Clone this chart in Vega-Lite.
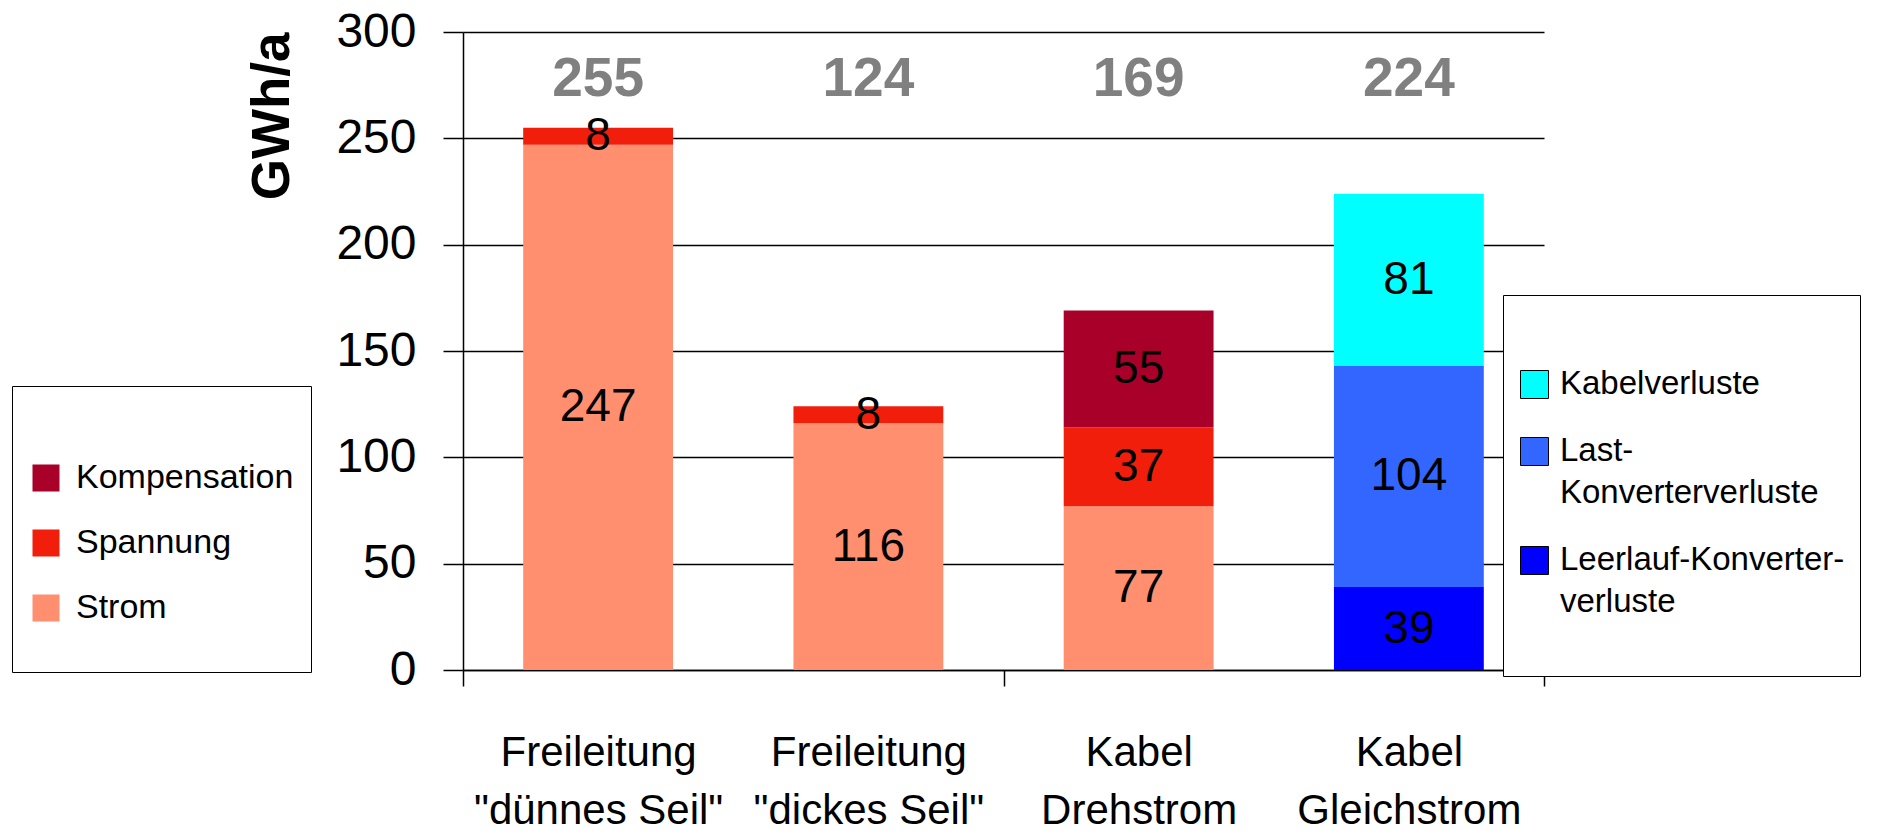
{
  "$schema": "https://vega.github.io/schema/vega-lite/v6.json",
  "width": 1081,
  "height": 638,
  "autosize": {"type": "none"},
  "padding": {"left": 463, "top": 32, "right": 341, "bottom": 161},
  "background": "white",
  "config": {
    "view": {"stroke": null},
    "font": "Liberation Sans",
    "axisY": {
      "domainColor": "#000", "domainWidth": 1.5,
      "gridColor": "#000", "gridWidth": 1.3, "gridOpacity": 1,
      "tickColor": "#000", "tickSize": 20, "tickWidth": 1.5,
      "labelFont": "Liberation Sans", "labelFontSize": 48, "labelColor": "#000", "labelPadding": 27,
      "titleFont": "Liberation Sans", "titleFontSize": 53, "titleFontWeight": "bold", "titleColor": "#000",
      "titlePadding": 36, "titleAnchor": "end"
    },
    "axisX": {
      "domainColor": "#000", "domainWidth": 1.5,
      "tickColor": "#000", "tickSize": 16, "tickWidth": 1.5,
      "labelFont": "Liberation Sans", "labelFontSize": 42, "labelColor": "#000",
      "labelLineHeight": 58, "labelBaseline": "top", "labelPadding": 46, "labelAngle": 0,
      "labelLimit": 400, "tickBand": "extent"
    }
  },
  "data": {
    "values": [
      {"cat": "Freileitung|\"dünnes Seil\"", "group": "rot", "seg": "Strom", "ord": 1, "value": 247},
      {"cat": "Freileitung|\"dünnes Seil\"", "group": "rot", "seg": "Spannung", "ord": 2, "value": 8},
      {"cat": "Freileitung|\"dickes Seil\"", "group": "rot", "seg": "Strom", "ord": 1, "value": 116},
      {"cat": "Freileitung|\"dickes Seil\"", "group": "rot", "seg": "Spannung", "ord": 2, "value": 8},
      {"cat": "Kabel|Drehstrom", "group": "rot", "seg": "Strom", "ord": 1, "value": 77},
      {"cat": "Kabel|Drehstrom", "group": "rot", "seg": "Spannung", "ord": 2, "value": 37},
      {"cat": "Kabel|Drehstrom", "group": "rot", "seg": "Kompensation", "ord": 3, "value": 55},
      {"cat": "Kabel|Gleichstrom", "group": "blau", "seg": "Leerlauf-Konverter-|verluste", "ord": 1, "value": 39},
      {"cat": "Kabel|Gleichstrom", "group": "blau", "seg": "Last-|Konverterverluste", "ord": 2, "value": 104},
      {"cat": "Kabel|Gleichstrom", "group": "blau", "seg": "Kabelverluste", "ord": 3, "value": 81}
    ]
  },
  "encoding": {
    "x": {
      "field": "cat", "type": "nominal", "sort": null,
      "scale": {"paddingInner": 0, "paddingOuter": 0},
      "axis": {
        "title": null,
        "labelExpr": "split(datum.label, '|')",
        "tickOpacity": {"condition": {"test": "datum.index < 0 || (datum.index > 0.2 && datum.index < 0.5) || datum.index > 0.9", "value": 1}, "value": 0}
      }
    }
  },
  "layer": [
    {
      "transform": [{"filter": "datum.group === 'rot'"}],
      "mark": {"type": "bar", "width": {"band": 0.5545}},
      "encoding": {
        "y": {
          "field": "value", "type": "quantitative", "stack": "zero",
          "scale": {"domain": [0, 300], "nice": false},
          "axis": {"values": [0, 50, 100, 150, 200, 250, 300], "grid": true},
          "title": "GWh/a"
        },
        "color": {
          "field": "seg", "type": "nominal",
          "scale": {"domain": ["Kompensation", "Spannung", "Strom"], "range": ["#A80028", "#F01E0A", "#FF8F6E"]},
          "legend": {
            "orient": "none", "legendX": -451, "legendY": 354,
            "title": " ", "titleFontSize": 42, "titlePadding": 16,
            "padding": 17, "strokeColor": "#000", "fillColor": "#fff",
            "symbolType": "square", "symbolSize": 729, "symbolStrokeColor": "#000", "symbolStrokeWidth": 1, "symbolOpacity": 1,
            "labelFont": "Liberation Sans", "labelFontSize": 34, "labelColor": "#000", "labelOffset": 13,
            "labelBaseline": "top",
            "labelExpr": "split(datum.label + (datum.label === 'Strom' ? '| ' : ''), '|')",
            "rowPadding": 31, "labelLimit": 400,
            "encode": {
              "labels": {"update": {"dy": {"value": -17}, "lineHeight": {"value": 30}}},
              "symbols": {"update": {"fill": {"signal": "datum.value === 'Kompensation' ? '#800000' : datum.value === 'Spannung' ? '#FF0000' : '#FF9966'"}}}
            }
          }
        },
        "order": {"field": "ord", "type": "quantitative"}
      }
    },
    {
      "transform": [{"filter": "datum.group === 'blau'"}],
      "mark": {"type": "bar", "width": {"band": 0.5545}},
      "encoding": {
        "y": {"field": "value", "type": "quantitative", "stack": "zero"},
        "color": {
          "field": "seg", "type": "nominal",
          "scale": {"domain": ["Kabelverluste", "Last-|Konverterverluste", "Leerlauf-Konverter-|verluste"], "range": ["#00FFFF", "#3366FF", "#0000FF"]},
          "legend": {
            "orient": "none", "legendX": 1040, "legendY": 263,
            "title": " ", "titleFontSize": 42, "titlePadding": 16,
            "padding": 15, "strokeColor": "#000", "fillColor": "#fff",
            "symbolType": "square", "symbolSize": 784, "symbolStrokeColor": "#000", "symbolStrokeWidth": 1, "symbolOpacity": 1,
            "labelFont": "Liberation Sans", "labelFontSize": 33, "labelColor": "#000", "labelOffset": 9,
            "labelBaseline": "top",
            "labelExpr": "split(datum.label + (indexof(datum.label, 'Leerlauf') >= 0 ? '| ' : ''), '|')",
            "rowPadding": 33, "labelLimit": 400,
            "encode": {"labels": {"update": {"dy": {"value": -17}, "lineHeight": {"value": 42}}}}
          }
        },
        "order": {"field": "ord", "type": "quantitative"}
      }
    },
    {
      "mark": {"type": "text", "font": "Liberation Sans", "fontSize": 46, "color": "#000", "baseline": "middle"},
      "encoding": {
        "y": {"field": "value", "type": "quantitative", "stack": "zero", "bandPosition": 0.5},
        "detail": {"field": "seg"},
        "order": {"field": "ord", "type": "quantitative"},
        "text": {"field": "value", "type": "quantitative"}
      }
    },
    {
      "mark": {"type": "text", "font": "Liberation Sans", "fontWeight": "bold", "fontSize": 55, "color": "#808080", "baseline": "middle"},
      "encoding": {
        "y": {"datum": 278, "type": "quantitative"},
        "text": {"aggregate": "sum", "field": "value", "type": "quantitative"}
      }
    }
  ],
  "resolve": {"scale": {"color": "independent"}, "legend": {"color": "independent"}}
}
